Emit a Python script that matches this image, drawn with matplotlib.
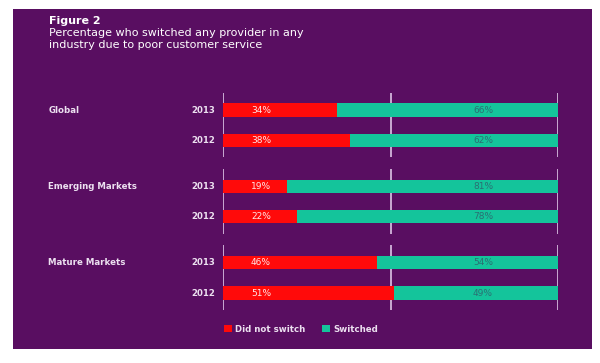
import matplotlib
matplotlib.use("Agg")
import matplotlib.pyplot as plt
from matplotlib.patches import Rectangle, Patch

# data
groups = ["Global", "Emerging Markets", "Mature Markets"]
years = ["2013", "2012"]
did_not_switch = [[34, 38], [19, 22], [46, 51]]
switched = [[66, 62], [81, 78], [54, 49]]

PURPLE = "#590e61"
RED = "#ff0a0a"
TEAL = "#14c49b"
TXT = "#ece0f0"
LINE = "#dcc4e6"

W, H = 600, 363
fig = plt.figure(figsize=(6, 3.63), dpi=100, facecolor="white")

def fx(px):
    return px / W

def fy(py):
    return 1 - py / H

# purple panel
fig.patches.append(Rectangle((fx(13), fy(349)), fx(592) - fx(13), fy(9) - fy(349),
                             transform=fig.transFigure, facecolor=PURPLE,
                             edgecolor="none", zorder=-5))

# title
fig.text(fx(49), fy(21), "Figure 2", color="white", fontsize=8.0, fontweight="bold",
         va="center", ha="left")
fig.text(fx(49), fy(33), "Percentage who switched any provider in any",
         color="white", fontsize=8.0, va="center", ha="left")
fig.text(fx(49), fy(45), "industry due to poor customer service",
         color="white", fontsize=8.0, va="center", ha="left")

# axes: x 0..100 maps to px 223..558, y unit = 30.5 px, y=0 at px 110
px_per = 30.5
top_px, bot_px = 80, 320
ax = fig.add_axes([fx(223), fy(bot_px), fx(558) - fx(223), fy(top_px) - fy(bot_px)])
ax.set_xlim(0, 100)
ax.set_ylim((bot_px - 110) / px_per, (top_px - 110) / px_per)
ax.set_facecolor("none")
ax.axis("off")

group_gap = 2.5
bar_h = 0.43
for g, name in enumerate(groups):
    base = g * group_gap
    for r, yr in enumerate(years):
        y = base + r
        a = did_not_switch[g][r]
        b = switched[g][r]
        ax.barh(y, a, height=bar_h, color=RED, zorder=2)
        ax.barh(y, b, left=a, height=bar_h, color=TEAL, zorder=2)
        ax.text(11.3, y, f"{a}%", color="#ffe6e6", fontsize=6.5, ha="center",
                va="center", zorder=3)
        ax.text(77.6, y, f"{b}%", color="#2b6f73", fontsize=6.5, ha="center",
                va="center", zorder=3)
        ax.text(-2.4, y, yr, color=TXT, fontsize=6.2, fontweight="bold",
                ha="right", va="center", clip_on=False)
    ax.text(-52.2, base, name, color=TXT, fontsize=6.2, fontweight="bold",
            ha="left", va="center", clip_on=False)
    for xv in [0, 50, 100]:
        ax.plot([xv, xv], [base - 0.57, base + 1.55], color=LINE, lw=1.2,
                zorder=1, solid_capstyle="butt")

handles = [Patch(facecolor=RED, label="Did not switch"),
           Patch(facecolor=TEAL, label="Switched")]
leg = fig.legend(handles=handles, loc="center left",
                 bbox_to_anchor=(fx(216), fy(329)), ncol=2, frameon=False,
                 handlelength=0.9, handleheight=0.9, handletextpad=0.4,
                 columnspacing=2.0, prop={"size": 6.2, "weight": "bold"})
for t in leg.get_texts():
    t.set_color(TXT)

fig.savefig("out.png", dpi=100, facecolor="white")
